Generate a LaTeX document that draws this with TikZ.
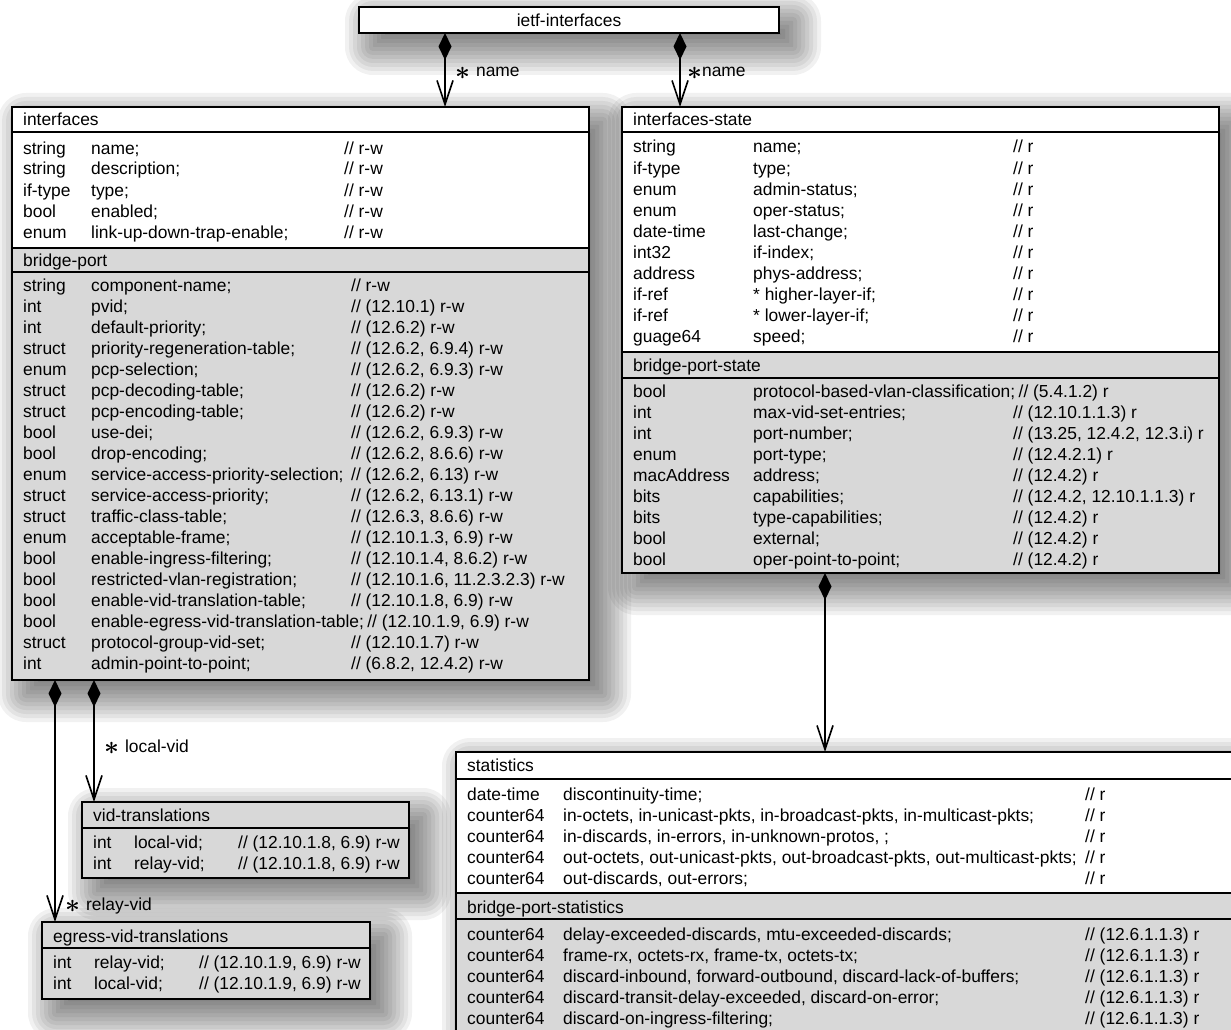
\documentclass[tikz,border=0pt]{standalone}
\usepackage{amsmath}
\usepackage{fontspec}
\setmainfont{Liberation Sans}
\usepackage{tikz}
\usetikzlibrary{calc,arrows.meta}

\definecolor{attrgray}{RGB}{216,216,216}
\newcommand{\attrfont}{\fontsize{17.4}{21}\selectfont}
\newcommand{\assocstar}{\raisebox{-2.5pt}{\scalebox{1.5}{$\boldsymbol{\ast}$}}}

\tikzset{
  umlclass/.style={draw, line width=2pt, fill=white, inner sep=0pt, outer sep=0pt, anchor=north west},
  shadowlayer/.style={fill=black, fill opacity=0.055},
  grayarea/.style={fill=attrgray},
  clsframe/.style={draw, line width=2pt},
  sepline/.style={line width=2.6pt},
  attr/.style={anchor=base west, inner sep=0pt, font=\attrfont},
  assoc/.style={anchor=base west, inner sep=0pt, font=\attrfont},
  compo/.style={line width=1.6pt, {Diamond[length=27pt,width=13pt]}-{Straight Barb[length=24pt,width=16pt]}},
}

% soft shadow behind a box: x1, y1, x2, y2
\newcommand{\dropshadow}[4]{%
  \foreach \k in {0,...,10}{
    \pgfmathsetmacro{\e}{28-4*\k}
    \pgfmathsetmacro{\rc}{max(\e,0.5)}
    \fill[shadowlayer, rounded corners=\rc pt] (#1+14-\e,#2+14-\e) rectangle (#3+14+\e,#4+14+\e);
  }}

% rows of one compartment: prefix, x type, x name, x comment, first baseline, rows
\newcommand{\attrrows}[6]{%
  \foreach \atype/\aname/\acmt [count=\i] in {#6}{
    \pgfmathsetmacro{\ry}{#5+21*(\i-1)}
    \node[attr] (#1-t\i) at (#2,\ry) {\atype};
    \node[attr] (#1-n\i) at (#3,\ry) {\aname};
    \path let \p1=(#1-n\i.east) in node[attr] (#1-c\i) at ({max(#4,\x1+3)},\ry) {// \acmt};
  }}

\begin{document}
\begin{tikzpicture}[x=1pt,y=-1pt]
  \fill[white] (0,0) rectangle (1231,1030);
  \useasboundingbox (0,0) rectangle (1231,1030);

  % shadows
  \dropshadow{359}{7}{779}{33}
  \dropshadow{12}{107}{589}{680}
  \dropshadow{622}{107}{1219}{573}
  \dropshadow{456}{752}{1250}{1045}
  \dropshadow{82}{802}{409}{878}
  \dropshadow{42}{922}{370}{999}

  % ietf-interfaces
  \node[umlclass, anchor=center, minimum width=420pt, minimum height=26pt, font=\attrfont] (ietf) at (569,20) {ietf-interfaces};

  % interfaces / bridge-port
  \node[umlclass, minimum width=577pt, minimum height=573pt] (interfaces) at (12,107) {};
  \fill[grayarea] (12,248) rectangle (589,680);
  \draw[sepline] (12,132) -- (589,132) (12,248) -- (589,248) (12,272) -- (589,272);
  \draw[clsframe] (interfaces.north west) rectangle (interfaces.south east);
  \node[attr] (interfaces-h) at (23,126) {interfaces};
  \node[attr] (bridgeport-h) at (23,266) {bridge-port};
  \attrrows{ifc}{23}{91}{344}{154}{string/name;/r-w, string/description;/r-w, if-type/type;/r-w,
    bool/enabled;/r-w, enum/link-up-down-trap-enable;/r-w}
  \attrrows{bp}{23}{91}{351}{291}{string/component-name;/r-w,
    int/pvid;/(12.10.1) r-w,
    int/default-priority;/(12.6.2) r-w,
    struct/priority-regeneration-table;/{(12.6.2, 6.9.4) r-w},
    enum/pcp-selection;/{(12.6.2, 6.9.3) r-w},
    struct/pcp-decoding-table;/(12.6.2) r-w,
    struct/pcp-encoding-table;/(12.6.2) r-w,
    bool/use-dei;/{(12.6.2, 6.9.3) r-w},
    bool/drop-encoding;/{(12.6.2, 8.6.6) r-w},
    enum/service-access-priority-selection;/{(12.6.2, 6.13) r-w},
    struct/service-access-priority;/{(12.6.2, 6.13.1) r-w},
    struct/traffic-class-table;/{(12.6.3, 8.6.6) r-w},
    enum/acceptable-frame;/{(12.10.1.3, 6.9) r-w},
    bool/enable-ingress-filtering;/{(12.10.1.4, 8.6.2) r-w},
    bool/restricted-vlan-registration;/{(12.10.1.6, 11.2.3.2.3) r-w},
    bool/enable-vid-translation-table;/{(12.10.1.8, 6.9) r-w},
    bool/enable-egress-vid-translation-table;/{(12.10.1.9, 6.9) r-w},
    struct/protocol-group-vid-set;/(12.10.1.7) r-w,
    int/admin-point-to-point;/{(6.8.2, 12.4.2) r-w}}

  % interfaces-state / bridge-port-state
  \node[umlclass, minimum width=597pt, minimum height=466pt] (ifstate) at (622,107) {};
  \fill[grayarea] (622,352) rectangle (1219,573);
  \draw[sepline] (622,132) -- (1219,132) (622,352) -- (1219,352) (622,378) -- (1219,378);
  \draw[clsframe] (ifstate.north west) rectangle (ifstate.south east);
  \node[attr] (ifstate-h) at (633,126) {interfaces-state};
  \node[attr] (bpstate-h) at (633,371) {bridge-port-state};
  \attrrows{ifs}{633}{753}{1013}{153}{string/name;/r, if-type/type;/r, enum/admin-status;/r,
    enum/oper-status;/r, date-time/last-change;/r, int32/if-index;/r, address/phys-address;/r,
    if-ref/* higher-layer-if;/r, if-ref/* lower-layer-if;/r, guage64/speed;/r}
  \attrrows{bps}{633}{753}{1013}{397}{bool/protocol-based-vlan-classification;/(5.4.1.2) r,
    int/max-vid-set-entries;/(12.10.1.1.3) r,
    int/port-number;/{(13.25, 12.4.2, 12.3.i) r},
    enum/port-type;/(12.4.2.1) r,
    macAddress/address;/(12.4.2) r,
    bits/capabilities;/{(12.4.2, 12.10.1.1.3) r},
    bits/type-capabilities;/(12.4.2) r,
    bool/external;/(12.4.2) r,
    bool/oper-point-to-point;/(12.4.2) r}

  % statistics / bridge-port-statistics
  \node[umlclass, minimum width=794pt, minimum height=293pt] (stats) at (456,752) {};
  \fill[grayarea] (456,893) rectangle (1250,1045);
  \draw[sepline] (456,779) -- (1250,779) (456,893) -- (1250,893) (456,919) -- (1250,919);
  \draw[clsframe] (stats.north west) rectangle (stats.south east);
  \node[attr] (stats-h) at (467,771) {statistics};
  \node[attr] (bpstats-h) at (467,913) {bridge-port-statistics};
  \attrrows{st}{467}{563}{1085}{800}{date-time/discontinuity-time;/r,
    counter64/{in-octets, in-unicast-pkts, in-broadcast-pkts, in-multicast-pkts;}/r,
    counter64/{in-discards, in-errors, in-unknown-protos, ;}/r,
    counter64/{out-octets, out-unicast-pkts, out-broadcast-pkts, out-multicast-pkts;}/r,
    counter64/{out-discards, out-errors;}/r}
  \attrrows{bpst}{467}{563}{1085}{940}{counter64/{delay-exceeded-discards, mtu-exceeded-discards;}/(12.6.1.1.3) r,
    counter64/{frame-rx, octets-rx, frame-tx, octets-tx;}/(12.6.1.1.3) r,
    counter64/{discard-inbound, forward-outbound, discard-lack-of-buffers;}/(12.6.1.1.3) r,
    counter64/{discard-transit-delay-exceeded, discard-on-error;}/(12.6.1.1.3) r,
    counter64/discard-on-ingress-filtering;/(12.6.1.1.3) r}

  % vid-translations
  \node[umlclass, fill=attrgray, minimum width=327pt, minimum height=76pt] (vidtr) at (82,802) {};
  \draw[sepline] (82,828) -- (409,828);
  \node[attr] (vidtr-h) at (93,821) {vid-translations};
  \attrrows{vt}{93}{134}{238}{848}{int/local-vid;/{(12.10.1.8, 6.9) r-w}, int/relay-vid;/{(12.10.1.8, 6.9) r-w}}

  % egress-vid-translations
  \node[umlclass, fill=attrgray, minimum width=328pt, minimum height=77pt] (egress) at (42,922) {};
  \draw[sepline] (42,948) -- (370,948);
  \node[attr] (egress-h) at (53,942) {egress-vid-translations};
  \attrrows{evt}{53}{94}{199}{968}{int/relay-vid;/{(12.10.1.9, 6.9) r-w}, int/local-vid;/{(12.10.1.9, 6.9) r-w}}

  % connectors
  \coordinate (xa) at (445,0);
  \coordinate (xb) at (680,0);
  \coordinate (xc) at (825,0);
  \coordinate (xd) at (94,0);
  \coordinate (xe) at (55,0);
  \draw[compo] (ietf.south -| xa) -- (interfaces.north -| xa);
  \draw[compo] (ietf.south -| xb) -- (ifstate.north -| xb);
  \draw[compo] (ifstate.south -| xc) -- (stats.north -| xc);
  \draw[compo] (interfaces.south -| xd) -- (vidtr.north -| xd);
  \draw[compo] (interfaces.south -| xe) -- (egress.north -| xe);

  \node[assoc] (name-a) at (455,77) {\assocstar\hspace{6pt}name};
  \node[assoc] (name-b) at (687,77) {\assocstar name};
  \node[assoc] (localvid) at (104,752) {\assocstar\hspace{6pt}local-vid};
  \node[assoc] (relayvid) at (65,910) {\assocstar\hspace{6pt}relay-vid};
\end{tikzpicture}
\end{document}
